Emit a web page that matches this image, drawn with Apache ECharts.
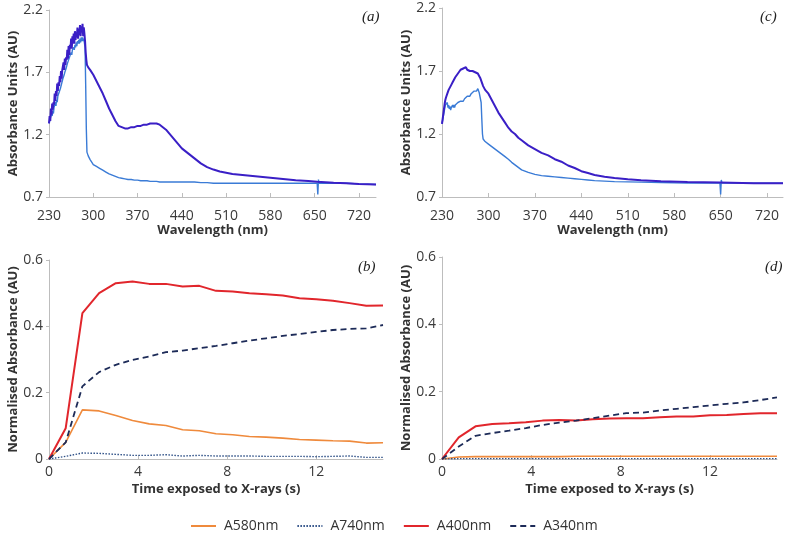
<!DOCTYPE html>
<html>
<head>
<meta charset="utf-8">
<script src="https://cdn.jsdelivr.net/npm/echarts@6/dist/echarts.min.js"></script>
<style>html,body{margin:0;padding:0;background:#fff;}#c{width:787px;height:537px;}</style>
</head>
<body>
<div id="c"></div>
<script>
// ---- Panel (a) spectra ----
const waveA = [230,231,232,233,234,235,236,237,238,239,240,241,242,243,244,245,246,247,248,249,250,251,252,253,254,255,256,257,258,259,260,261,262,263,264,265,266,267,268,269,270,271,272,273,274,275,276,277,278,279,280,281,282,283,284,285,286,287,288,289,290,292,295,300,305,310,315,320,325,330,335,340,345,350,355,360,365,370,375,380,385,390,395,400,405,410,415,420,425,430,435,440,445,450,455,460,470,480,490,500,510,520,540,560,580,600,620,640,654,655,656,657,680,700,720,747];
const darkA = [1.29,1.35,1.31,1.41,1.36,1.45,1.40,1.46,1.44,1.53,1.47,1.55,1.51,1.61,1.55,1.62,1.59,1.67,1.62,1.71,1.65,1.72,1.71,1.78,1.72,1.81,1.76,1.82,1.80,1.88,1.81,1.91,1.84,1.92,1.89,1.97,1.89,1.99,1.93,2.01,1.93,2.03,1.96,2.02,1.98,2.06,1.97,2.05,2.00,2.08,1.99,2.07,2.02,2.09,1.99,2.06,2.01,1.95,1.86,1.80,1.76,1.74,1.72,1.68,1.63,1.58,1.53,1.47,1.41,1.36,1.31,1.27,1.26,1.25,1.25,1.26,1.26,1.27,1.27,1.28,1.28,1.29,1.29,1.29,1.28,1.26,1.24,1.21,1.18,1.15,1.12,1.09,1.07,1.05,1.03,1.01,0.97,0.94,0.92,0.905,0.895,0.885,0.875,0.865,0.855,0.845,0.835,0.828,0.823,0.823,0.823,0.82,0.815,0.81,0.805,0.80];
const lightA = [1.29,1.31,1.33,1.32,1.37,1.35,1.39,1.37,1.42,1.41,1.46,1.43,1.48,1.46,1.51,1.50,1.54,1.55,1.57,1.58,1.61,1.62,1.65,1.65,1.68,1.70,1.70,1.73,1.74,1.77,1.76,1.80,1.79,1.83,1.82,1.86,1.84,1.88,1.87,1.90,1.88,1.92,1.90,1.94,1.91,1.95,1.93,1.96,1.93,1.97,1.94,1.98,1.95,1.98,1.95,1.97,1.96,1.90,1.60,1.25,1.06,1.03,1.00,0.96,0.945,0.93,0.915,0.90,0.885,0.875,0.865,0.855,0.85,0.845,0.84,0.84,0.835,0.835,0.83,0.83,0.83,0.825,0.825,0.825,0.82,0.82,0.82,0.82,0.82,0.82,0.82,0.82,0.82,0.82,0.82,0.82,0.815,0.815,0.81,0.81,0.81,0.81,0.81,0.81,0.81,0.81,0.81,0.81,0.81,0.72,0.84,0.81,0.81,0.81,0.805,0.80];

// ---- Panel (c) spectra ----
const waveC = [230,231,232,233,234,235,236,237,238,239,240,241,242,243,244,245,246,247,248,249,250,252,254,256,258,260,262,264,266,268,270,272,274,276,278,280,282,284,286,288,289,290,291,292,295,300,305,310,315,320,325,330,335,340,345,350,360,370,380,390,400,410,420,430,440,450,460,475,490,510,530,560,600,649,650,651,652,700,744];
const darkC = [1.28,1.32,1.36,1.40,1.44,1.47,1.49,1.48,1.52,1.51,1.55,1.54,1.57,1.56,1.59,1.58,1.61,1.60,1.63,1.62,1.65,1.66,1.68,1.69,1.71,1.70,1.72,1.71,1.73,1.71,1.72,1.70,1.71,1.70,1.71,1.69,1.70,1.68,1.67,1.64,1.63,1.61,1.60,1.58,1.55,1.52,1.47,1.42,1.37,1.33,1.29,1.25,1.22,1.20,1.17,1.15,1.11,1.08,1.05,1.03,1.00,0.98,0.95,0.93,0.905,0.89,0.875,0.86,0.85,0.84,0.832,0.825,0.82,0.815,0.815,0.815,0.815,0.81,0.81];
const lightC = [1.28,1.31,1.34,1.37,1.40,1.43,1.44,1.42,1.45,1.41,1.43,1.40,1.42,1.39,1.41,1.40,1.43,1.41,1.43,1.41,1.43,1.44,1.45,1.44,1.46,1.47,1.46,1.48,1.49,1.50,1.51,1.50,1.52,1.53,1.54,1.55,1.54,1.56,1.53,1.53,1.45,1.32,1.20,1.16,1.14,1.12,1.10,1.08,1.06,1.04,1.02,1.00,0.975,0.955,0.935,0.915,0.895,0.88,0.87,0.865,0.86,0.855,0.85,0.845,0.84,0.835,0.83,0.826,0.822,0.82,0.818,0.815,0.81,0.81,0.72,0.835,0.81,0.81,0.81];

// ---- Time series (b) and (d) ----
const timeS = [0,0.75,1.5,2.25,3,3.75,4.5,5.25,6,6.75,7.5,8.25,9,9.75,10.5,11.25,12,12.75,13.5,14.25,15];
const b580 = [0,0.05,0.148,0.145,0.131,0.116,0.106,0.101,0.088,0.085,0.076,0.073,0.068,0.066,0.063,0.059,0.057,0.055,0.054,0.048,0.049];
const b740 = [0,0.008,0.018,0.017,0.014,0.011,0.011,0.013,0.009,0.011,0.009,0.009,0.009,0.008,0.008,0.008,0.007,0.008,0.009,0.005,0.005];
const b400 = [0,0.093,0.44,0.50,0.53,0.535,0.528,0.528,0.52,0.522,0.507,0.505,0.50,0.497,0.493,0.485,0.482,0.477,0.47,0.462,0.463];
const b340 = [0,0.05,0.219,0.262,0.284,0.299,0.309,0.322,0.327,0.334,0.341,0.349,0.357,0.364,0.371,0.377,0.383,0.389,0.392,0.394,0.404];
const d580 = [0,0.006,0.007,0.007,0.007,0.007,0.007,0.007,0.008,0.008,0.008,0.008,0.008,0.008,0.008,0.008,0.008,0.008,0.008,0.008,0.008];
const d740 = [0,0.001,0.001,0.001,0.001,0.001,0.001,0.001,0.001,0.001,0.001,0.001,0.001,0.001,0.001,0.001,0.001,0.001,0.001,0.001,0.001];
const d400 = [0,0.064,0.097,0.104,0.106,0.109,0.114,0.116,0.114,0.118,0.120,0.121,0.121,0.124,0.126,0.126,0.130,0.131,0.134,0.136,0.136];
const d340 = [0,0.037,0.069,0.077,0.084,0.092,0.101,0.108,0.114,0.121,0.129,0.136,0.138,0.144,0.149,0.154,0.159,0.164,0.168,0.175,0.183];

const waveTicks = [230,300,370,440,510,580,650,720];
const absTicks = [0.7,1.2,1.7,2.2];
const timeTicks = [0,4,8,12];
const normTicks = [0,0.2,0.4,0.6];
const legendNames = ['A580nm','A740nm','A400nm','A340nm'];

const pairs = (xs, ys) => xs.map((x, i) => [x, ys[i]]);

const FONT = 'Open Sans';
const axisCol = '#bdbdbd';
const labCol = '#3a3a3a';
const nameStyle = {fontFamily: FONT, fontWeight: 'bold', fontSize: 13, color: '#333'};

function xAx(grid, min, max, ticks, name, margin, gap) {
  return {
    type: 'value', gridIndex: grid, min: min, max: max,
    name: name, nameLocation: 'middle', nameGap: gap, nameTextStyle: nameStyle,
    axisLine: {show: true, lineStyle: {color: axisCol, width: 1}},
    axisTick: {show: true, length: 4, inside: true, customValues: ticks, lineStyle: {color: axisCol}},
    axisLabel: {customValues: ticks, fontFamily: FONT, fontSize: 14, color: labCol, margin: margin},
    splitLine: {show: false}
  };
}
function yAx(grid, min, max, ticks, name, gap) {
  return {
    type: 'value', gridIndex: grid, min: min, max: max,
    name: name, nameLocation: 'middle', nameGap: gap, nameTextStyle: nameStyle,
    axisLine: {show: true, lineStyle: {color: axisCol, width: 1}},
    axisTick: {show: true, length: 3, customValues: ticks, lineStyle: {color: axisCol}},
    axisLabel: {customValues: ticks, fontFamily: FONT, fontSize: 14, color: labCol, margin: 6},
    splitLine: {show: false}
  };
}
function ln(name, xi, data, color, width, type, z) {
  return {
    name: name, type: 'line', xAxisIndex: xi, yAxisIndex: xi, data: data,
    symbol: 'none', showSymbol: false, smooth: false, animation: false, z: z || 2,
    lineStyle: {color: color, width: width, type: type || 'solid'},
    itemStyle: {color: color}
  };
}
const darkCol = '#3a1fc6', lightCol = '#3a7bd6';
const cOrange = '#ef8a3c', cDot = '#2d4f86', cRed = '#e1262c', cDash = '#1d2b58';

const titleStyle = {fontFamily: 'Liberation Serif', fontStyle: 'italic', fontWeight: 'normal', fontSize: 15, color: '#222'};

const chart = echarts.init(document.getElementById('c'), null, {renderer: 'canvas'});
chart.setOption({
  backgroundColor: '#fff',
  animation: false,
  title: [
    {text: '(a)', left: 357, top: 5, textStyle: titleStyle},
    {text: '(c)', left: 755, top: 5, textStyle: titleStyle},
    {text: '(b)', left: 353, top: 255, textStyle: titleStyle},
    {text: '(d)', left: 760, top: 255, textStyle: titleStyle}
  ],
  grid: [
    {left: 49, top: 10, width: 327, height: 187},
    {left: 442, top: 8, width: 341, height: 189},
    {left: 49, top: 260, width: 334, height: 199},
    {left: 442, top: 257, width: 335, height: 202}
  ],
  xAxis: [
    xAx(0, 230, 747, waveTicks, 'Wavelength (nm)', 12, 27),
    xAx(1, 230, 744, waveTicks, 'Wavelength (nm)', 12, 27),
    xAx(2, 0, 15, timeTicks, 'Time exposed to X-rays (s)', 6, 24),
    xAx(3, 0, 15, timeTicks, 'Time exposed to X-rays (s)', 6, 24)
  ],
  yAxis: [
    yAx(0, 0.7, 2.2, absTicks, 'Absorbance Units (AU)', 29),
    yAx(1, 0.7, 2.2, absTicks, 'Absorbance Units (AU)', 29),
    yAx(2, 0, 0.6, normTicks, 'Normalised Absorbance (AU)', 29),
    yAx(3, 0, 0.6, normTicks, 'Normalised Absorbance (AU)', 29)
  ],
  legend: {
    data: legendNames, left: 185, top: 514, itemWidth: 25, itemHeight: 12, itemGap: 18,
    itemStyle: {opacity: 0},
    textStyle: {fontFamily: FONT, fontSize: 14, color: '#333', padding: [0,0,0,3]},
    selectedMode: false
  },
  series: [
    ln('spec-a-light', 0, pairs(waveA, lightA), lightCol, 1.4, 'solid', 2),
    ln('spec-a-dark', 0, pairs(waveA, darkA), darkCol, 2, 'solid', 3),
    ln('spec-c-light', 1, pairs(waveC, lightC), lightCol, 1.4, 'solid', 2),
    ln('spec-c-dark', 1, pairs(waveC, darkC), darkCol, 2, 'solid', 3),
    ln('A580nm', 2, pairs(timeS, b580), cOrange, 1.6),
    ln('A740nm', 2, pairs(timeS, b740), cDot, 1.4, [1.5, 1.5]),
    ln('A400nm', 2, pairs(timeS, b400), cRed, 2),
    ln('A340nm', 2, pairs(timeS, b340), cDash, 1.8, [6, 4]),
    ln('A580nm', 3, pairs(timeS, d580), cOrange, 1.6),
    ln('A740nm', 3, pairs(timeS, d740), cDot, 1.4, [1.5, 1.5]),
    ln('A400nm', 3, pairs(timeS, d400), cRed, 2),
    ln('A340nm', 3, pairs(timeS, d340), cDash, 1.8, [6, 4])
  ]
});
</script>
</body>
</html>
